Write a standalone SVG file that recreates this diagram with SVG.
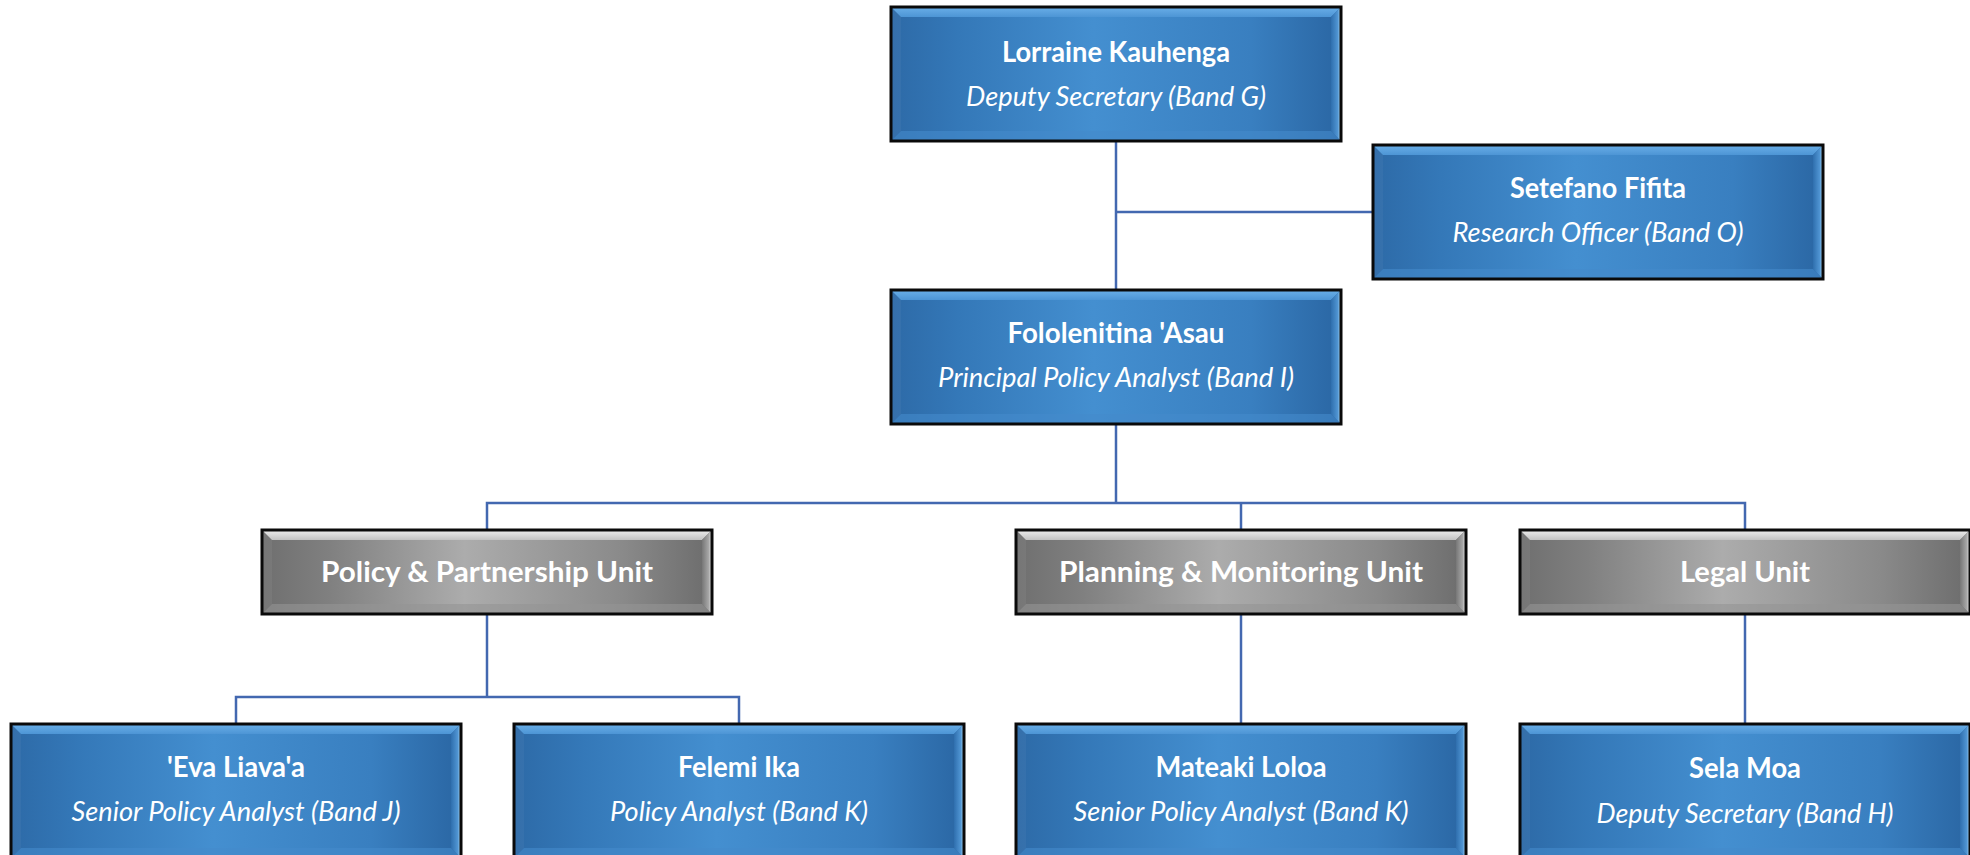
<svg xmlns="http://www.w3.org/2000/svg" xmlns:xlink="http://www.w3.org/1999/xlink" width="1970" height="855" viewBox="0 0 1970 855">
<style>
  .name { font-family: Lato, "Open Sans", sans-serif; font-weight: 700; font-size: 28px; fill: #ffffff; text-anchor: middle; }
  .role { font-family: Lato, "Open Sans", sans-serif; font-style: italic; font-size: 27px; fill: #ffffff; text-anchor: middle; }
  .unit { font-family: Lato, "Open Sans", sans-serif; font-weight: 700; font-size: 28px; fill: #ffffff; text-anchor: middle; }
  .conn { stroke: #4368b0; stroke-width: 2.5; fill: none; }
</style>
<defs>
  <linearGradient id="gBlue" x1="0" y1="0" x2="1" y2="0">
    <stop offset="0" stop-color="#2d6aa7"/>
    <stop offset="0.15" stop-color="#3478b8"/>
    <stop offset="0.45" stop-color="#448fd0"/>
    <stop offset="0.8" stop-color="#397fc0"/>
    <stop offset="1" stop-color="#2a66a3"/>
  </linearGradient>
  <linearGradient id="gGrey" x1="0" y1="0" x2="1" y2="0">
    <stop offset="0" stop-color="#6f6f6f"/>
    <stop offset="0.15" stop-color="#808080"/>
    <stop offset="0.45" stop-color="#acacac"/>
    <stop offset="0.8" stop-color="#8a8a8a"/>
    <stop offset="1" stop-color="#6c6c6c"/>
  </linearGradient>
  <linearGradient id="bTopBlue" x1="0" y1="0" x2="0" y2="1">
    <stop offset="0" stop-color="#6aafe8"/>
    <stop offset="1" stop-color="#4d95d5"/>
  </linearGradient>
  <linearGradient id="bRightBlue" x1="1" y1="0" x2="0" y2="0">
    <stop offset="0" stop-color="#a9d8f6"/>
    <stop offset="0.35" stop-color="#4f94d2"/>
    <stop offset="1" stop-color="#2f6fae"/>
  </linearGradient>
  <linearGradient id="bTopGrey" x1="0" y1="0" x2="0" y2="1">
    <stop offset="0" stop-color="#eeeeee"/>
    <stop offset="1" stop-color="#c2c2c2"/>
  </linearGradient>
  <linearGradient id="bRightGrey" x1="1" y1="0" x2="0" y2="0">
    <stop offset="0" stop-color="#eeeeee"/>
    <stop offset="0.35" stop-color="#a6a6a6"/>
    <stop offset="1" stop-color="#777777"/>
  </linearGradient>
  <g id="blueBox">
    <rect x="0" y="0" width="450" height="134" fill="url(#gBlue)"/>
    <polygon points="0,0 450,0 440,10 10,10" fill="url(#bTopBlue)"/>
    <polygon points="0,0 10,10 10,124 0,134" fill="#ffffff" opacity="0.04"/>
    <polygon points="450,0 450,134 440,124 440,10" fill="url(#bRightBlue)"/>
    <polygon points="0,134 10,124 440,124 450,134" fill="#458bcb" opacity="0.6"/>
    <rect x="0" y="0" width="450" height="134" fill="none" stroke="#0a0a0a" stroke-width="3"/>
  </g>
  <g id="greyBox">
    <rect x="0" y="0" width="450" height="84" fill="url(#gGrey)"/>
    <polygon points="0,0 450,0 440,10 10,10" fill="url(#bTopGrey)"/>
    <polygon points="0,0 10,10 10,74 0,84" fill="#ffffff" opacity="0.05"/>
    <polygon points="450,0 450,84 440,74 440,10" fill="url(#bRightGrey)"/>
    <polygon points="0,84 10,74 440,74 450,84" fill="#959595" opacity="0.6"/>
    <rect x="0" y="0" width="450" height="84" fill="none" stroke="#0a0a0a" stroke-width="3"/>
  </g>
</defs>
<rect x="0" y="0" width="1970" height="855" fill="#ffffff"/>

<g id="connectors">
  <path class="conn" d="M1116,142 V290"/>
  <path class="conn" d="M1116,212 H1373"/>
  <path class="conn" d="M1116,423 V503"/>
  <path class="conn" d="M487,530 V503 H1745 V530"/>
  <path class="conn" d="M1241,503 V530"/>
  <path class="conn" d="M487,614 V697"/>
  <path class="conn" d="M236,724 V697 H739 V724"/>
  <path class="conn" d="M1241,614 V724"/>
  <path class="conn" d="M1745,614 V724"/>
</g>

<g id="n-lorraine" transform="translate(891,7)">
  <use xlink:href="#blueBox"/>
  <text class="name" x="225" y="55" textLength="228" lengthAdjust="spacingAndGlyphs">Lorraine Kauhenga</text>
  <text class="role" x="225" y="99" textLength="300" lengthAdjust="spacingAndGlyphs">Deputy Secretary (Band G)</text>
</g>
<g id="n-setefano" transform="translate(1373,145)">
  <use xlink:href="#blueBox"/>
  <text class="name" x="225" y="53" textLength="176" lengthAdjust="spacingAndGlyphs">Setefano Fifita</text>
  <text class="role" x="225" y="97" textLength="291" lengthAdjust="spacingAndGlyphs">Research Officer (Band O)</text>
</g>
<g id="n-fololenitina" transform="translate(891,290)">
  <use xlink:href="#blueBox"/>
  <text class="name" x="225" y="53" textLength="217" lengthAdjust="spacingAndGlyphs">Fololenitina 'Asau</text>
  <text class="role" x="225" y="97" textLength="356" lengthAdjust="spacingAndGlyphs">Principal Policy Analyst (Band I)</text>
</g>
<g id="n-policy-unit" transform="translate(262,530)">
  <use xlink:href="#greyBox"/>
  <text class="unit" x="225" y="52" textLength="332" lengthAdjust="spacingAndGlyphs">Policy &amp; Partnership Unit</text>
</g>
<g id="n-planning-unit" transform="translate(1016,530)">
  <use xlink:href="#greyBox"/>
  <text class="unit" x="225" y="52" textLength="364" lengthAdjust="spacingAndGlyphs">Planning &amp; Monitoring Unit</text>
</g>
<g id="n-legal-unit" transform="translate(1520,530)">
  <use xlink:href="#greyBox"/>
  <text class="unit" x="225" y="52" textLength="130" lengthAdjust="spacingAndGlyphs">Legal Unit</text>
</g>
<g id="n-eva" transform="translate(11,724)">
  <use xlink:href="#blueBox"/>
  <text class="name" x="225" y="53" textLength="138" lengthAdjust="spacingAndGlyphs">'Eva Liava'a</text>
  <text class="role" x="225" y="97" textLength="329" lengthAdjust="spacingAndGlyphs">Senior Policy Analyst (Band J)</text>
</g>
<g id="n-felemi" transform="translate(514,724)">
  <use xlink:href="#blueBox"/>
  <text class="name" x="225" y="53" textLength="122" lengthAdjust="spacingAndGlyphs">Felemi Ika</text>
  <text class="role" x="225" y="97" textLength="258" lengthAdjust="spacingAndGlyphs">Policy Analyst (Band K)</text>
</g>
<g id="n-mateaki" transform="translate(1016,724)">
  <use xlink:href="#blueBox"/>
  <text class="name" x="225" y="53" textLength="171" lengthAdjust="spacingAndGlyphs">Mateaki Loloa</text>
  <text class="role" x="225" y="97" textLength="335" lengthAdjust="spacingAndGlyphs">Senior Policy Analyst (Band K)</text>
</g>
<g id="n-sela" transform="translate(1520,724)">
  <use xlink:href="#blueBox"/>
  <text class="name" x="225" y="54" textLength="112" lengthAdjust="spacingAndGlyphs">Sela Moa</text>
  <text class="role" x="225" y="99" textLength="297" lengthAdjust="spacingAndGlyphs">Deputy Secretary (Band H)</text>
</g>
</svg>
